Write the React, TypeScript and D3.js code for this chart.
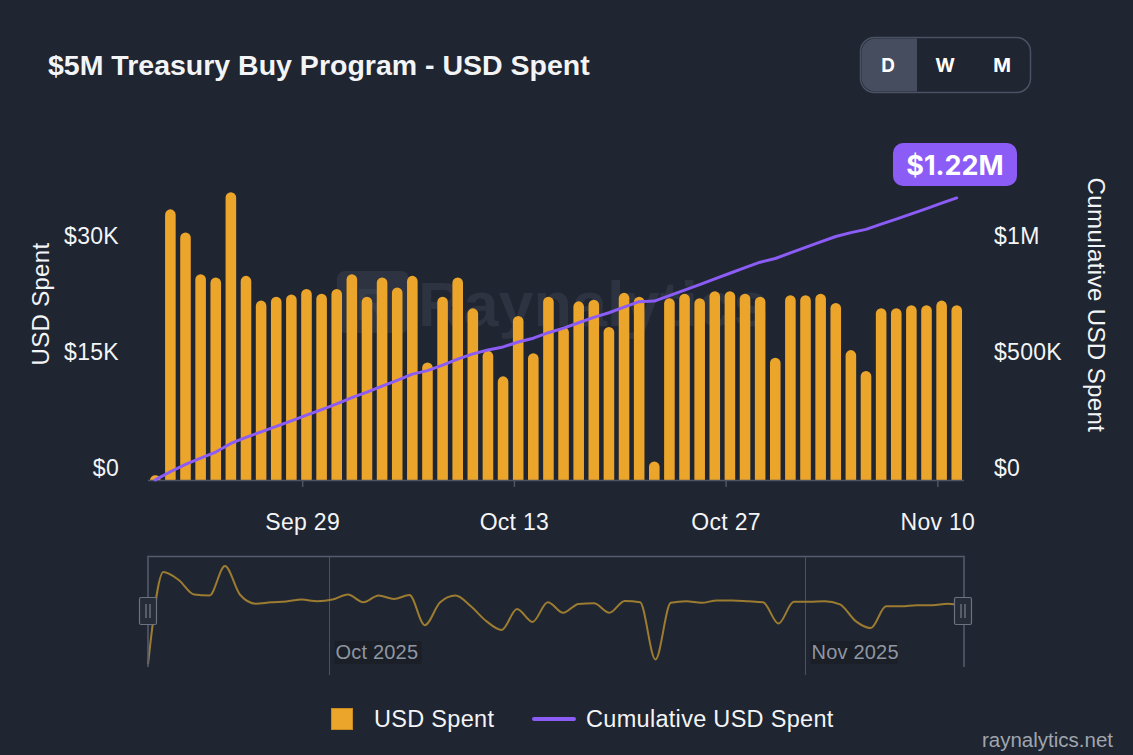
import * as d3 from 'd3';

const width = 1133;
const height = 755;

// daily USD spent, Sep 19 .. Nov 11 2025
const usdSpent = [
    600, 35000, 32000, 26600, 26200, 37200, 26400, 23200, 23700, 24000,
    24700, 24100, 24700, 26600, 23700, 26200, 24900, 26400, 15200, 23700,
    26200, 22200, 16700, 13400, 21200, 16400, 23700, 19800, 23100, 23300,
    19800, 24200, 23700, 2400, 23500, 24100, 23500, 24400, 24400, 24100,
    23700, 15800, 23900, 23900, 24100, 22900, 16800, 14100, 22200, 22200,
    22600, 22600, 23200, 22600
];
const dates = d3.utcDay.range(new Date(Date.UTC(2025, 8, 19)), new Date(Date.UTC(2025, 10, 12)));

const xTicks = ['2025-09-29', '2025-10-13', '2025-10-27', '2025-11-10'];
const xTickLabels = ['Sep 29', 'Oct 13', 'Oct 27', 'Nov 10'];
const leftTicks = [0, 15000, 30000];
const leftTickLabels = ['$0', '$15K', '$30K'];
const rightTicks = [0, 500000, 1000000];
const rightTickLabels = ['$0', '$500K', '$1M'];
const navTicks = ['2025-10-01', '2025-11-01'];
const navTickLabels = ['Oct 2025', 'Nov 2025'];
const periods = ['D', 'W', 'M'];

const BG = '#1f2531';
const BAR = '#eca52b';
const LINE = '#8b5cf6';
const TEXT = '#f3f4f6';
const AXIS = '#4d5464';
const FONT = '"Liberation Sans", Arial, sans-serif';

const DAY = 864e5;
// labels are drawn at local midnight, a quarter day before the data timestamps
const tickShift = 0.25 * DAY;

export default function App() {
    const cumulative = Array.from(d3.cumsum(usdSpent));
    const first = dates[0].getTime();
    const last = dates[dates.length - 1].getTime();

    const x = d3.scaleUtc().domain([first - 0.48 * DAY, last + 0.48 * DAY]).range([148, 964]);
    const dayW = x(first + DAY) - x(first);
    const barW = dayW * 0.7;
    const yL = d3.scaleLinear().domain([0, 37500]).range([480, 190]);
    const yR = d3.scaleLinear().domain([0, 1250000]).range([480, 190]);

    const navX = d3.scaleUtc().domain([first, last]).range([148, 963]);
    const navY = d3.scaleLinear().domain([0, d3.max(usdSpent)!]).range([666, 566]);

    const barPath = (d: Date, v: number) => {
        const cx = x(d);
        const x0 = cx - barW / 2;
        const x1 = cx + barW / 2;
        const top = yL(v);
        const h = yL(0) - top;
        const r = Math.min(barW / 2, h);
        return `M${x0},${yL(0)}V${top + r}A${barW / 2},${r} 0 0 1 ${x1},${top + r}V${yL(0)}Z`;
    };

    const cumLine = d3
        .line<number>()
        .x((_, i) => x(dates[i]))
        .y((v) => yR(v))(cumulative);

    const navLine = d3
        .line<number>()
        .x((_, i) => navX(dates[i]))
        .y((v) => navY(v))
        .curve(d3.curveMonotoneX)(usdSpent);

    const total = cumulative[cumulative.length - 1];

    return (
        <svg
            width={width}
            height={height}
            style={{ position: 'fixed', left: 0, top: 0, background: BG, fontFamily: FONT }}
        >
            <rect width={width} height={height} fill={BG} />

            {/* title */}
            <text x={48} y={75} fill={TEXT} fontSize={28.5} fontWeight="bold">
                $5M Treasury Buy Program - USD Spent
            </text>

            {/* D / W / M toggle */}
            <rect x={860.5} y={37.5} width={170} height={55} rx={14} fill="none" stroke="#4a5263" strokeWidth={1.5} />
            <path d="M917,38.5V91.5H875A14,14 0 0 1 861.5,77.5V52.5A14,14 0 0 1 875,38.5Z" fill="#454d5e" />
            {periods.map((p, i) => (
                <text
                    key={p}
                    x={[888, 945, 1002][i]}
                    y={65}
                    dy="0.36em"
                    textAnchor="middle"
                    fill="#ffffff"
                    fontSize={19}
                    fontWeight="bold"
                    fontFamily="Inter, sans-serif"
                >
                    {p}
                </text>
            ))}

            {/* watermark */}
            <g fill="#2d3340">
                <rect x={337} y={271} width={72} height={62} rx={8} />
                <text x={372} y={320} textAnchor="middle" fontSize={44} fontWeight="bold" fill="#363d4a">
                    R
                </text>
                <text x={418} y={326} fontSize={63} fontWeight="bold">
                    Raynalytics
                </text>
            </g>

            {/* bars */}
            {usdSpent.map((v, i) => (
                <path key={i} d={barPath(dates[i], v)} fill={BAR} />
            ))}

            {/* x axis */}
            <line x1={148} x2={964} y1={480.5} y2={480.5} stroke={AXIS} strokeWidth={1.5} />
            {xTicks.map((t, i) => {
                const tx = x(new Date(t + 'T00:00:00Z').getTime() - tickShift);
                return (
                    <g key={t}>
                        <line x1={tx} x2={tx} y1={480} y2={487} stroke={AXIS} strokeWidth={1.5} />
                        <text x={tx} y={530} textAnchor="middle" fill={TEXT} fontSize={23} letterSpacing={0.3}>
                            {xTickLabels[i]}
                        </text>
                    </g>
                );
            })}

            {/* cumulative line */}
            <path d={cumLine ?? ''} fill="none" stroke={LINE} strokeWidth={3} strokeLinejoin="round" strokeLinecap="round" />

            {/* end badge */}
            <rect x={893} y={143} width={124} height={43} rx={10} fill={LINE} />
            <text
                x={955}
                y={165}
                dy="0.36em"
                textAnchor="middle"
                fill="#ffffff"
                fontSize={27}
                fontWeight="bold"
                fontFamily="Inter, sans-serif"
            >
                {'$' + d3.format('.3~s')(total).replace('k', 'K')}
            </text>

            {/* left axis */}
            {leftTicks.map((t, i) => (
                <text key={t} x={119} y={yL(t) - 12} dy="0.36em" textAnchor="end" fill={TEXT} fontSize={23} letterSpacing={0.3}>
                    {leftTickLabels[i]}
                </text>
            ))}
            <text transform="translate(40,304) rotate(-90)" textAnchor="middle" dy="0.36em" fill={TEXT} fontSize={24} letterSpacing={0.3}>
                USD Spent
            </text>

            {/* right axis */}
            {rightTicks.map((t, i) => (
                <text key={t} x={994} y={yR(t) - 12} dy="0.36em" fill={TEXT} fontSize={23} letterSpacing={0.3}>
                    {rightTickLabels[i]}
                </text>
            ))}
            <text transform="translate(1097,305) rotate(90)" textAnchor="middle" dy="0.36em" fill={TEXT} fontSize={24} letterSpacing={0.4}>
                Cumulative USD Spent
            </text>

            {/* navigator */}
            {navTicks.map((t, i) => {
                const gx = Math.round(navX(new Date(t + 'T00:00:00Z').getTime() - tickShift)) + 0.5;
                return (
                    <g key={t}>
                        <line x1={gx} x2={gx} y1={556} y2={675} stroke="#4a5263" strokeWidth={1} />
                        <rect x={gx + 5} y={641} width={87} height={23} fill="#1a1f28" />
                        <text x={gx + 6} y={652} dy="0.36em" fill="#8f96a1" fontSize={20} letterSpacing={0.2}>
                            {navTickLabels[i]}
                        </text>
                    </g>
                );
            })}
            <path d={navLine ?? ''} fill="none" stroke="#9c7c30" strokeWidth={2} />
            <path d="M148,667V556.5H964V667" fill="none" stroke="#555c6c" strokeWidth={1.5} />
            {[148, 963].map((hx) => (
                <g key={hx}>
                    <rect x={hx - 8.5} y={597.5} width={17} height={27} rx={1.5} fill="#262c38" stroke="#6b7280" strokeWidth={1.2} />
                    <line x1={hx - 2} x2={hx - 2} y1={604} y2={618} stroke="#8a909b" strokeWidth={1} />
                    <line x1={hx + 2} x2={hx + 2} y1={604} y2={618} stroke="#8a909b" strokeWidth={1} />
                </g>
            ))}

            {/* legend */}
            <rect x={331.5} y={708.5} width={21} height={21} fill={BAR} stroke="#c98b20" strokeWidth={1} />
            <text x={374} y={719} dy="0.36em" fill={TEXT} fontSize={23.5} letterSpacing={0.3}>
                USD Spent
            </text>
            <line x1={534} x2={574} y1={719} y2={719} stroke={LINE} strokeWidth={4} strokeLinecap="round" />
            <text x={586} y={719} dy="0.36em" fill={TEXT} fontSize={23.5} letterSpacing={0.3}>
                Cumulative USD Spent
            </text>

            <text x={1113} y={740} dy="0.36em" textAnchor="end" fill="#a0a5ae" fontSize={20.5}>
                raynalytics.net
            </text>
        </svg>
    );
}
